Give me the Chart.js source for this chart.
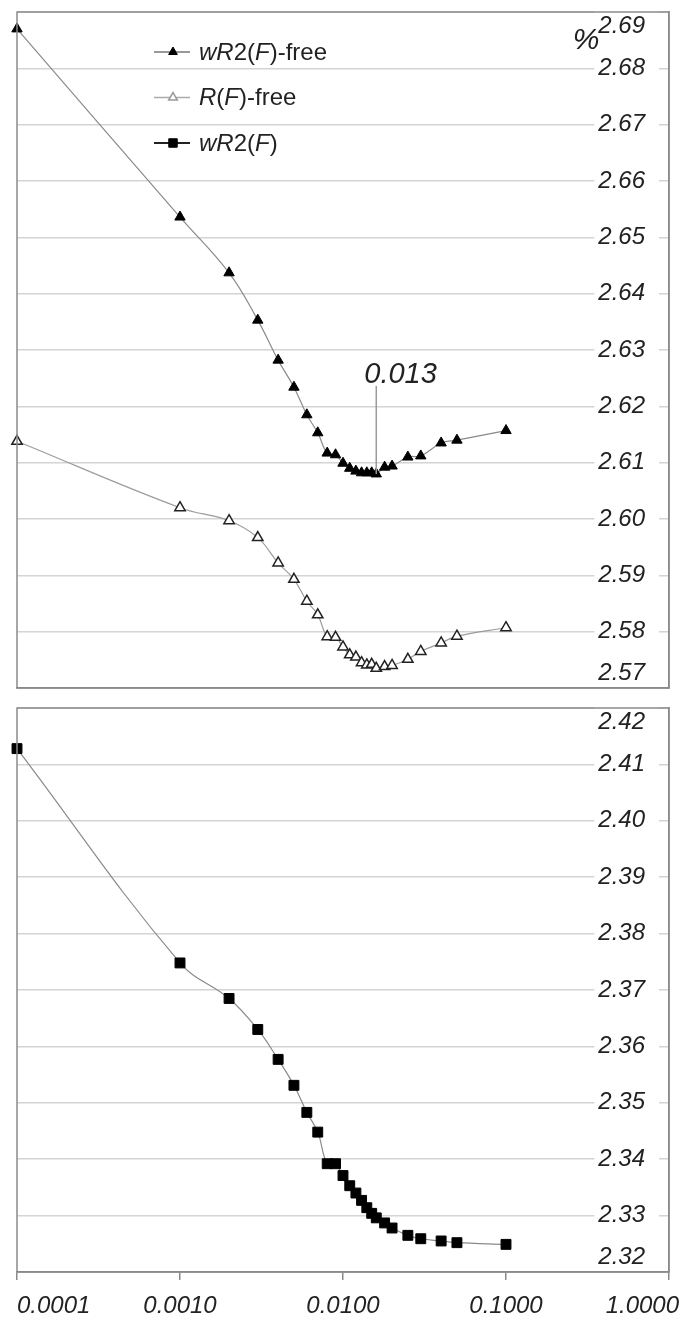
<!DOCTYPE html>
<html>
<head>
<meta charset="utf-8">
<script src="https://cdn.jsdelivr.net/npm/chart.js@4.4.1/dist/chart.umd.min.js"></script>
<style>
  body { margin: 0; background: #fff; }
  canvas { position: absolute; left: 0; }
  #top { top: 0; }
  #bottom { top: 700px; }
</style>
</head>
<body>
<canvas id="top" width="681" height="700"></canvas>
<canvas id="bottom" width="681" height="620"></canvas>
<script>
// weighting parameter (log axis)
const xValues = [0.0001, 0.001, 0.002, 0.003, 0.004, 0.005, 0.006, 0.007, 0.008, 0.009,
  0.010, 0.011, 0.012, 0.013, 0.014, 0.015, 0.016, 0.018, 0.020, 0.025, 0.030, 0.040, 0.050, 0.100];

// values in %
const wR2Free = [2.6870, 2.6536, 2.6437, 2.6353, 2.6282, 2.6234, 2.6185, 2.6153, 2.6117, 2.6114,
  2.6099, 2.6090, 2.6085, 2.6082, 2.6082, 2.6082, 2.6080, 2.6092, 2.6094, 2.6110, 2.6112, 2.6135, 2.6140, 2.6157];
const rFree = [2.6138, 2.6020, 2.5997, 2.5967, 2.5922, 2.5893, 2.5854, 2.5830, 2.5791, 2.5790,
  2.5773, 2.5759, 2.5755, 2.5745, 2.5741, 2.5742, 2.5735, 2.5738, 2.5740, 2.5751, 2.5765, 2.5780, 2.5792, 2.5807];
const wR2 = [2.4128, 2.3748, 2.3685, 2.3630, 2.3577, 2.3531, 2.3483, 2.3448, 2.3392, 2.3392,
  2.3371, 2.3353, 2.3340, 2.3327, 2.3314, 2.3304, 2.3296, 2.3287, 2.3278, 2.3265, 2.3259, 2.3255, 2.3252, 2.3249];

const xTicks = [0.0001, 0.001, 0.01, 0.1, 1];
const topRange = [2.57, 2.69];
const bottomRange = [2.32, 2.42];
// text between * is italic
const seriesNames = ['*wR*2(*F*)-free', '*R*(*F*)-free', '*wR*2(*F*)'];
const minLabel = '0.013';
const minX = 0.016;

const FONT = "'Liberation Sans', Arial, sans-serif";
const GRID = '#d4d4d4';
const AXIS = '#8a8a8a';
const TEXT = '#222';

const pts = ys => xValues.map((x, i) => ({x: x, y: ys[i]}));

const filledTri = {pointStyle: 'triangle', pointRadius: 6, pointBackgroundColor: '#000', pointBorderColor: '#000', pointBorderWidth: 1, borderColor: '#8a8a8a'};
const openTri = {pointStyle: 'triangle', pointRadius: 6, pointBackgroundColor: '#fff', pointBorderColor: '#222', pointBorderWidth: 1.5, borderColor: '#9c9c9c'};
const square = {pointStyle: 'rect', pointRadius: 7, pointBackgroundColor: '#000', pointBorderColor: '#000', pointBorderWidth: 1, borderColor: '#8a8a8a'};

function yAxis(range) {
  return {
    type: 'linear',
    position: 'right',
    min: range[0],
    max: range[1],
    afterFit: s => { s.width = 0; s.paddingTop = 0; s.paddingBottom = 0; },
    ticks: {
      stepSize: 0.01,
      autoSkip: false,
      mirror: true,
      padding: -24,
      color: TEXT,
      font: {family: FONT, size: 24, style: 'italic'},
      // the backdrop is painted per line, so keep it off the bottom (two-line) label
      showLabelBackdrop: c => c.index !== 0,
      backdropColor: '#fff',
      backdropPadding: {left: 4, right: 14, top: 0, bottom: 0},
      callback: (v, i, ticks) => {
        const t = Number(v).toFixed(2);
        if (i === ticks.length - 1) return ['', t];
        if (i === 0) return [t, ''];
        return t;
      }
    },
    grid: {color: GRID, lineWidth: 1.5, drawTicks: false},
    border: {color: AXIS, width: 1.5}
  };
}

function xAxis(showLabels) {
  return {
    type: 'logarithmic',
    min: xTicks[0],
    max: xTicks[xTicks.length - 1],
    afterBuildTicks: s => { s.ticks = xTicks.map(v => ({value: v})); },
    afterFit: s => { s.height = showLabels ? 48 : 0; s.paddingLeft = 0; s.paddingRight = 0; },
    ticks: {
      display: showLabels,
      autoSkip: false,
      maxRotation: 0,
      padding: 12,
      color: TEXT,
      font: {family: FONT, size: 24, style: 'italic'},
      callback: (v, i) => {
        let t = Number(v).toFixed(4);
        if (i === 0) t = ' '.repeat(11) + t;
        if (i === xTicks.length - 1) t = t + ' '.repeat(8);
        return t;
      }
    },
    grid: {drawOnChartArea: false, drawTicks: showLabels, tickLength: 8, color: AXIS, lineWidth: 1.5},
    border: {color: AXIS, width: 1.5}
  };
}

function drawRich(ctx, str, x, y, size) {
  str.split('*').forEach((part, k) => {
    if (!part) return;
    ctx.font = (k % 2 ? 'italic ' : '') + size + 'px ' + FONT;
    ctx.fillText(part, x, y);
    x += ctx.measureText(part).width;
  });
}

const outline = {
  id: 'outline',
  afterDraw(chart) {
    const a = chart.chartArea, ctx = chart.ctx;
    ctx.save();
    ctx.strokeStyle = AXIS;
    ctx.lineWidth = 1.5;
    ctx.strokeRect(a.left, a.top, a.right - a.left, a.bottom - a.top);
    ctx.restore();
  }
};

const decor = {
  id: 'decor',
  afterDraw(chart) {
    const ctx = chart.ctx, a = chart.chartArea;
    const xs = chart.scales.x, ys = chart.scales.y;
    ctx.save();

    // legend
    const markers = [filledTri, openTri, square];
    const lineColors = ['#777', '#aaa', '#222'];
    const lineWidths = [1.5, 1.5, 2];
    ctx.textBaseline = 'middle';
    ctx.textAlign = 'left';
    markers.forEach((m, i) => {
      const y = a.top + 40 + i * 45.5;
      ctx.strokeStyle = lineColors[i];
      ctx.lineWidth = lineWidths[i];
      ctx.beginPath();
      ctx.moveTo(154, y);
      ctx.lineTo(190, y);
      ctx.stroke();
      ctx.fillStyle = m.pointBackgroundColor;
      ctx.strokeStyle = i === 1 ? '#999' : m.pointBorderColor;
      ctx.lineWidth = m.pointBorderWidth;
      Chart.helpers.drawPoint(ctx, {pointStyle: m.pointStyle, radius: m.pointRadius - 1, rotation: 0, borderWidth: m.pointBorderWidth}, 173, y);
      ctx.fillStyle = TEXT;
      drawRich(ctx, seriesNames[i], 199, y + 1, 24);
    });

    // unit
    ctx.textAlign = 'center';
    ctx.font = 'italic 30px ' + FONT;
    ctx.fillText('%', a.right - 83, a.top + 29);

    // minimum marker
    const px = xs.getPixelForValue(minX);
    const py = ys.getPixelForValue(wR2Free[xValues.indexOf(minX)]);
    ctx.strokeStyle = '#9a9a9a';
    ctx.lineWidth = 1.5;
    ctx.beginPath();
    ctx.moveTo(px, py - 88);
    ctx.lineTo(px, py);
    ctx.stroke();
    ctx.fillStyle = TEXT;
    ctx.textAlign = 'left';
    ctx.textBaseline = 'alphabetic';
    ctx.font = 'italic 29px ' + FONT;
    ctx.fillText(minLabel, px - 12, py - 91);
    ctx.restore();
  }
};

const common = {
  responsive: false,
  animation: false,
  events: [],
  plugins: {legend: {display: false}, tooltip: {enabled: false}}
};

new Chart(document.getElementById('top'), {
  type: 'line',
  data: {
    datasets: [
      Object.assign({label: 'wR2(F)-free', data: pts(wR2Free), borderWidth: 1.2, tension: 0.4, clip: false}, filledTri),
      Object.assign({label: 'R(F)-free', data: pts(rFree), borderWidth: 1.2, tension: 0.4, clip: false}, openTri)
    ]
  },
  options: Object.assign({}, common, {
    layout: {autoPadding: false, padding: {left: 17, right: 12, top: 12, bottom: 12}},
    scales: {x: xAxis(false), y: yAxis(topRange)}
  }),
  plugins: [outline, decor]
});

new Chart(document.getElementById('bottom'), {
  type: 'line',
  data: {
    datasets: [
      Object.assign({label: 'wR2(F)', data: pts(wR2), borderWidth: 1.2, tension: 0.4, clip: false}, square)
    ]
  },
  options: Object.assign({}, common, {
    layout: {autoPadding: false, padding: {left: 17, right: 12, top: 8, bottom: 0}},
    scales: {x: xAxis(true), y: yAxis(bottomRange)}
  }),
  plugins: [outline]
});
</script>
</body>
</html>
